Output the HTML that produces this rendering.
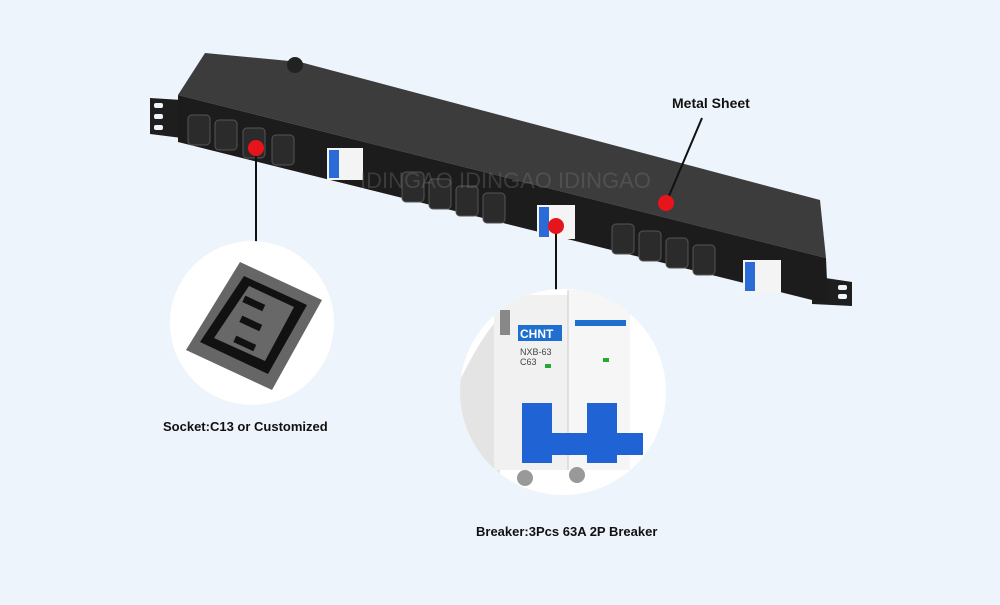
<!DOCTYPE html>
<html><head><style>
html,body{margin:0;padding:0;}
body{width:1000px;height:600px;background:#eef4fb;overflow:hidden;font-family:"Liberation Sans",sans-serif;}
</style></head><body>
<svg width="1000" height="600" viewBox="0 0 1000 600" xmlns="http://www.w3.org/2000/svg">
<defs><clipPath id="bc"><circle cx="563" cy="392" r="103"/></clipPath></defs>
<rect width="1000" height="600" fill="#eef4fb"/>
<!-- ears -->
<polygon points="150,98 182,100 182,138 150,134" fill="#1e1e1e"/>
<rect x="154" y="103" width="9" height="5" rx="2" fill="#eef4fb"/>
<rect x="154" y="114" width="9" height="5" rx="2" fill="#eef4fb"/>
<rect x="154" y="125" width="9" height="5" rx="2" fill="#eef4fb"/>
<polygon points="812,276 852,282 852,306 812,304" fill="#1e1e1e"/>
<rect x="838" y="285" width="9" height="5" rx="2" fill="#eef4fb"/>
<rect x="838" y="294" width="9" height="5" rx="2" fill="#eef4fb"/>
<!-- top face -->
<polygon points="205,53 300,62 820,200 826,258 178,95" fill="#3c3c3c"/>
<circle cx="295" cy="65" r="8" fill="#222"/>
<!-- front face -->
<polygon points="178,95 826,258 828,304 178,142" fill="#1c1c1c"/>
<!-- sockets -->
<g fill="#2b2b2b" stroke="#555" stroke-width="1">
<rect x="188" y="115" width="22" height="30" rx="4"/>
<rect x="215" y="120" width="22" height="30" rx="4"/>
<rect x="243" y="128" width="22" height="30" rx="4"/>
<rect x="272" y="135" width="22" height="30" rx="4"/>
<rect x="402" y="172" width="22" height="30" rx="4"/>
<rect x="429" y="179" width="22" height="30" rx="4"/>
<rect x="456" y="186" width="22" height="30" rx="4"/>
<rect x="483" y="193" width="22" height="30" rx="4"/>
<rect x="612" y="224" width="22" height="30" rx="4"/>
<rect x="639" y="231" width="22" height="30" rx="4"/>
<rect x="666" y="238" width="22" height="30" rx="4"/>
<rect x="693" y="245" width="22" height="30" rx="4"/>
</g>
<!-- breakers -->
<g>
<rect x="327" y="148" width="36" height="32" fill="#f4f4f4"/><rect x="329" y="150" width="10" height="28" fill="#2a6bd8"/>
<rect x="537" y="205" width="38" height="34" fill="#f4f4f4"/><rect x="539" y="207" width="10" height="30" fill="#2a6bd8"/>
<rect x="743" y="260" width="38" height="33" fill="#f4f4f4"/><rect x="745" y="262" width="10" height="29" fill="#2a6bd8"/>
</g>
<text x="360" y="188" font-size="22" fill="#777" opacity="0.35">IDINGAO  IDINGAO  IDINGAO</text>
<!-- leader lines -->
<line x1="256" y1="148" x2="256" y2="243" stroke="#111" stroke-width="2"/>
<line x1="556" y1="226" x2="556" y2="290" stroke="#111" stroke-width="2"/>
<line x1="666" y1="203" x2="702" y2="118" stroke="#111" stroke-width="2"/>
<circle cx="256" cy="148" r="8" fill="#e8141c"/>
<circle cx="556" cy="226" r="8" fill="#e8141c"/>
<circle cx="666" cy="203" r="8" fill="#e8141c"/>
<!-- socket circle -->
<circle cx="252" cy="323" r="82" fill="#ffffff"/>
<polygon points="240,262 322,300 272,390 186,350" fill="#666"/>
<polygon points="244,276 307,305 268,374 200,342" fill="#111"/>
<polygon points="249,286 294,307 265,361 214,338" fill="#686868"/>
<rect x="243" y="300" width="22" height="7" fill="#111" transform="rotate(25 254 303)"/>
<rect x="240" y="320" width="22" height="7" fill="#111" transform="rotate(25 251 323)"/>
<rect x="234" y="340" width="22" height="7" fill="#111" transform="rotate(25 245 343)"/>
<!-- breaker circle -->
<circle cx="563" cy="392" r="103" fill="#ffffff"/>
<g clip-path="url(#bc)">
<path d="M460,380 Q485,330 500,318 L500,495 L460,495Z" fill="#e4e4e4"/>
<rect x="494" y="295" width="74" height="175" fill="#f1f1f1"/>
<rect x="568" y="290" width="62" height="180" fill="#f6f6f6"/>
<rect x="500" y="310" width="10" height="25" fill="#888"/>
<line x1="568" y1="290" x2="568" y2="470" stroke="#ccc"/>
<rect x="518" y="325" width="44" height="16" fill="#1f6fd0"/>
<text x="520" y="338" font-size="12" font-weight="bold" fill="#fff">CHNT</text>
<rect x="575" y="320" width="51" height="6" fill="#1f6fd0"/>
<text x="520" y="355" font-size="9" fill="#444">NXB-63</text>
<text x="520" y="365" font-size="9" fill="#444">C63</text>
<rect x="545" y="364" width="6" height="4" fill="#2a3"/>
<rect x="603" y="358" width="6" height="4" fill="#2a3"/>
<rect x="522" y="403" width="30" height="60" fill="#1f63d4"/>
<rect x="587" y="403" width="30" height="60" fill="#1f63d4"/>
<rect x="525" y="433" width="118" height="22" fill="#1f63d4"/>
<circle cx="525" cy="478" r="8" fill="#999"/>
<circle cx="577" cy="475" r="8" fill="#999"/>
</g>
<!-- labels -->
<text x="672" y="108" font-size="14" font-weight="bold" fill="#111">Metal Sheet</text>
<text x="163" y="431" font-size="13" font-weight="bold" fill="#111">Socket:C13 or Customized</text>
<text x="476" y="536" font-size="13" font-weight="bold" fill="#111">Breaker:3Pcs 63A 2P Breaker</text>
</svg>
</body></html>
